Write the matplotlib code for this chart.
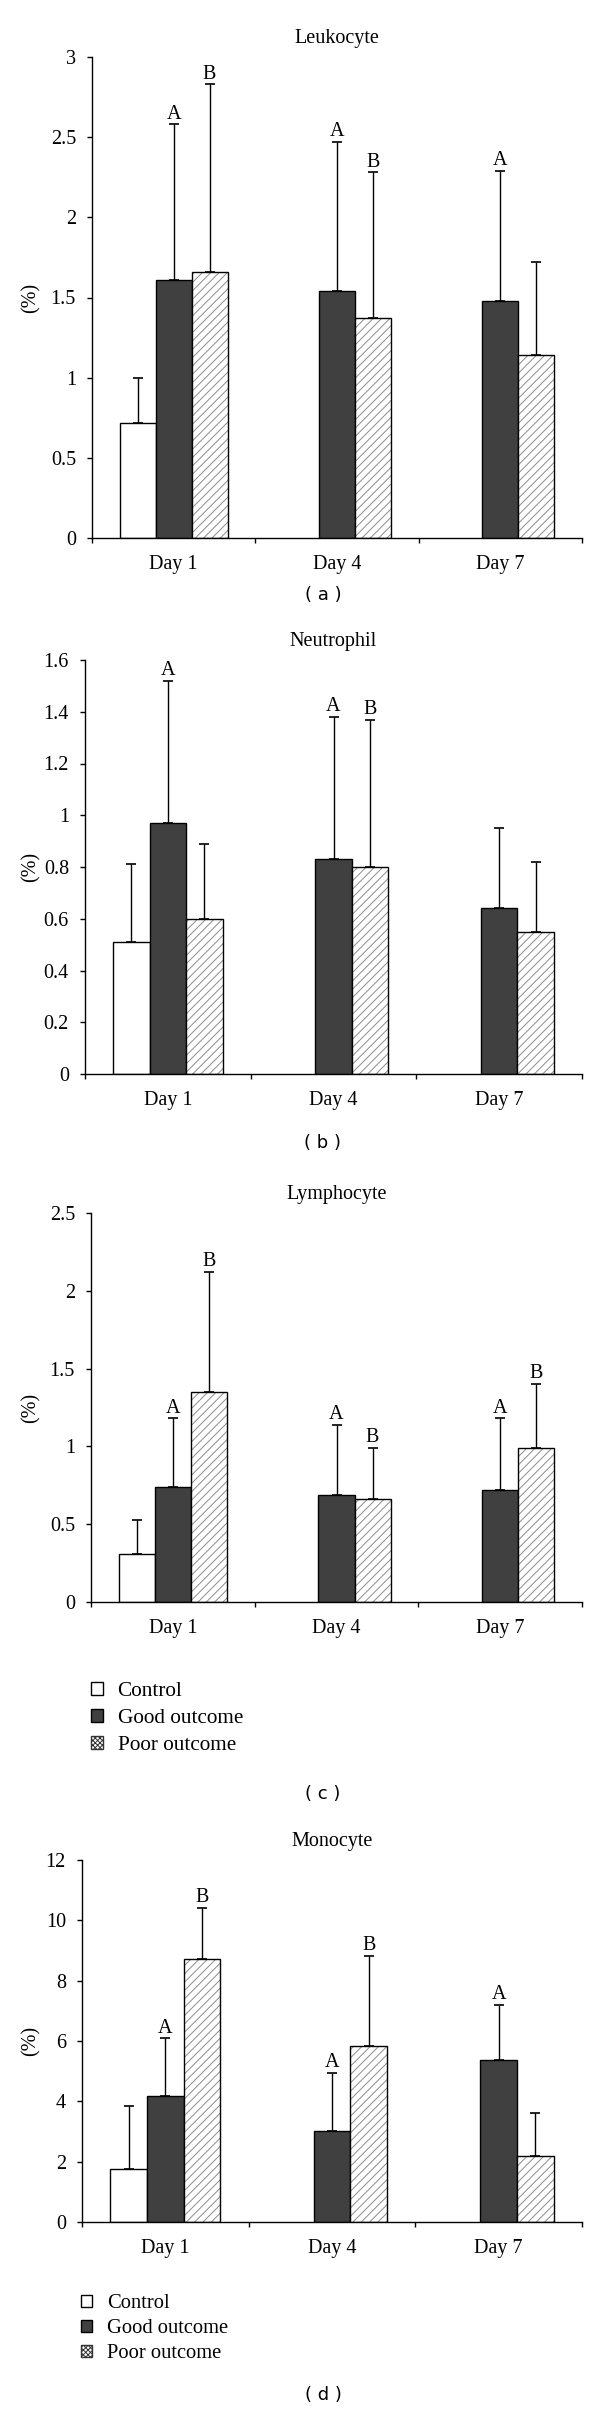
import matplotlib
matplotlib.use('Agg')
import matplotlib.pyplot as plt
import numpy as np
from matplotlib.patches import Patch
from matplotlib.ticker import FuncFormatter, MultipleLocator

plt.rcParams['font.family'] = ['Liberation Serif', 'DejaVu Serif']
plt.rcParams['hatch.linewidth'] = 0.7

days = ['Day 1', 'Day 4', 'Day 7']
groups = ['Control', 'Good outcome', 'Poor outcome']
panel_titles = ['Leukocyte', 'Neutrophil', 'Lymphocyte', 'Monocyte']
panel_tags = ['( a )', '( b )', '( c )', '( d )']

# Control measured on Day 1 only
leuk_ctrl, leuk_ctrl_sd = [0.72], [0.28]
leuk_good, leuk_good_sd = [1.61, 1.54, 1.48], [0.97, 0.93, 0.81]
leuk_poor, leuk_poor_sd = [1.66, 1.37, 1.14], [1.17, 0.91, 0.58]
leuk_good_sig = ['A', 'A', 'A']
leuk_poor_sig = ['B', 'B', '']

neut_ctrl, neut_ctrl_sd = [0.51], [0.30]
neut_good, neut_good_sd = [0.97, 0.83, 0.64], [0.55, 0.55, 0.31]
neut_poor, neut_poor_sd = [0.60, 0.80, 0.55], [0.29, 0.57, 0.27]
neut_good_sig = ['A', 'A', '']
neut_poor_sig = ['', 'B', '']

lymph_ctrl, lymph_ctrl_sd = [0.31], [0.22]
lymph_good, lymph_good_sd = [0.74, 0.69, 0.72], [0.44, 0.45, 0.46]
lymph_poor, lymph_poor_sd = [1.35, 0.66, 0.99], [0.77, 0.33, 0.41]
lymph_good_sig = ['A', 'A', 'A']
lymph_poor_sig = ['B', 'B', 'B']

mono_ctrl, mono_ctrl_sd = [1.76], [2.09]
mono_good, mono_good_sd = [4.17, 3.01, 5.36], [1.92, 1.93, 1.84]
mono_poor, mono_poor_sd = [8.73, 5.83, 2.20], [1.68, 2.99, 1.42]
mono_good_sig = ['A', 'A', 'A']
mono_poor_sig = ['B', 'B', '']

ymax = [3, 1.6, 2.5, 12]
ystep = [0.5, 0.2, 0.5, 2]

W, H = 600, 2412
DPI = 100
fig = plt.figure(figsize=(W / DPI, H / DPI), dpi=DPI)

# axes boxes in pixels: left, right, top, bottom
boxes = [(92, 582, 57, 538), (85, 582, 660, 1074), (91, 582, 1213, 1602), (82, 582, 1860, 2222)]
tag_y = [595, 1143, 1794, 2395]

GOOD = '#404040'
HATCHC = '#8c8c8c'
bw = 0.22
x = np.arange(len(days))

data = [
    (leuk_ctrl, leuk_ctrl_sd, leuk_good, leuk_good_sd, leuk_poor, leuk_poor_sd, leuk_good_sig, leuk_poor_sig),
    (neut_ctrl, neut_ctrl_sd, neut_good, neut_good_sd, neut_poor, neut_poor_sd, neut_good_sig, neut_poor_sig),
    (lymph_ctrl, lymph_ctrl_sd, lymph_good, lymph_good_sd, lymph_poor, lymph_poor_sd, lymph_good_sig, lymph_poor_sig),
    (mono_ctrl, mono_ctrl_sd, mono_good, mono_good_sd, mono_poor, mono_poor_sd, mono_good_sig, mono_poor_sig),
]

FS = 14.5
for i, (l, r, t, b) in enumerate(boxes):
    ax = fig.add_axes([l / W, 1 - b / H, (r - l) / W, (b - t) / H])
    ctrl, ctrl_sd, good, good_sd, poor, poor_sd, gsig, psig = data[i]
    xc = x[:len(ctrl)] - bw
    xg = x
    xp = x + bw
    ax.bar(xc, ctrl, bw, color='white', edgecolor='black', linewidth=1.0, zorder=2)
    ax.bar(xg, good, bw, color=GOOD, edgecolor='black', linewidth=1.0, zorder=2)
    ax.bar(xp, poor, bw, color='white', edgecolor=HATCHC, hatch='////', linewidth=0, zorder=2)
    ax.bar(xp, poor, bw, color='none', edgecolor='black', linewidth=1.0, zorder=3)
    for xs, hs, sds in ((xc, ctrl, ctrl_sd), (xg, good, good_sd), (xp, poor, poor_sd)):
        ax.errorbar(xs, hs, yerr=[np.zeros(len(hs)), sds], fmt='none', ecolor='black',
                    elinewidth=1.0, capsize=3.5, capthick=1.2, zorder=1)
    for xs, hs, sds, sig in ((xg, good, good_sd, gsig), (xp, poor, poor_sd, psig)):
        for xi, hi, si, s in zip(xs, hs, sds, sig):
            if s:
                ax.annotate(s, (xi, hi + si), xytext=(0, 0.5), textcoords='offset points',
                            ha='center', va='bottom', fontsize=FS)
    ax.set_xlim(-0.5, 2.5)
    ax.set_ylim(0, ymax[i])
    ax.yaxis.set_major_locator(MultipleLocator(ystep[i]))
    ax.yaxis.set_major_formatter(FuncFormatter(lambda v, p: f'{v:g}'))
    ax.set_xticks([-0.5, 0.5, 1.5, 2.5])
    ax.set_xticklabels([])
    ax.set_xticks(x, minor=True)
    ax.set_xticklabels(days, minor=True)
    ax.tick_params(axis='x', which='major', direction='out', length=3.6, width=1.0)
    ax.tick_params(axis='x', which='minor', length=0, pad=12, labelsize=FS)
    ax.tick_params(axis='y', direction='out', length=3.6, width=1.0, pad=8, labelsize=FS)
    for s in ('top', 'right'):
        ax.spines[s].set_visible(False)
    for s in ('left', 'bottom'):
        ax.spines[s].set_linewidth(1.0)
    ax.set_title(panel_titles[i], fontsize=14.5, pad=10)
    fig.text(31 / W, 1 - ((t + b) / 2) / H, '(%)', rotation=90, ha='center', va='center', fontsize=FS)
    fig.text(323 / W, 1 - tag_y[i] / H, panel_tags[i], ha='center', va='center',
             fontsize=13, family='DejaVu Sans')

    if i >= 2:
        handles = [Patch(facecolor='white', edgecolor='black', linewidth=1.0),
                   Patch(facecolor=GOOD, edgecolor='black', linewidth=1.0),
                   Patch(facecolor='white', edgecolor='#333333', hatch='xxxxxxx', linewidth=1.0)]
        if i == 2:
            lx, ly, fs, lsp = 91, 1682, 15.3, 0.38
        else:
            lx, ly, fs, lsp = 81, 2294, 14.8, 0.3
        ax.legend(handles, groups, loc='upper left', bbox_to_anchor=(lx / W, 1 - ly / H),
                  bbox_transform=fig.transFigure, frameon=False, borderpad=0, borderaxespad=0,
                  handlelength=0.55, handleheight=0.55, handletextpad=0.7, labelspacing=lsp,
                  fontsize=fs)

fig.savefig('out.png', dpi=DPI)
